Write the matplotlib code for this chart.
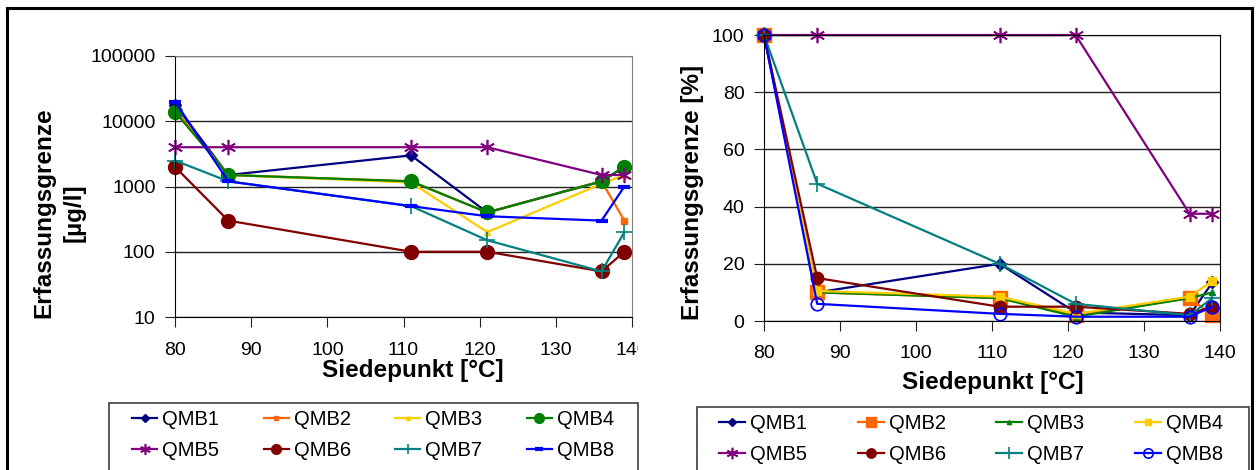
import matplotlib.pyplot as plt
from matplotlib.patches import Rectangle
from matplotlib.lines import Line2D
from matplotlib.ticker import NullLocator

plt.rcParams['font.family'] = ['Liberation Sans', 'DejaVu Sans']

# boiling points of the samples
siedepunkt = [80, 87, 111, 121, 136, 139]
labels = ['QMB1', 'QMB2', 'QMB3', 'QMB4', 'QMB5', 'QMB6', 'QMB7', 'QMB8']

# left chart: detection limit in ug/l (log scale)
abs_qmb1 = [18000, 1500, 3000, 400, 1200, 2000]
abs_qmb2 = [15000, 1500, 1200, 400, 1200, 300]
abs_qmb3 = [14000, 1500, 1150, 200, 1100, 1500]
abs_qmb4 = [14000, 1500, 1200, 400, 1200, 2000]
abs_qmb5 = [4000, 4000, 4000, 4000, 1500, 1500]
abs_qmb6 = [2000, 300, 100, 100, 50, 100]
abs_qmb7 = [2500, 1200, 500, 150, 50, 200]
abs_qmb8 = [20000, 1200, 500, 350, 300, 1000]

# right chart: detection limit in %
rel_qmb1 = [100, 10, 20, 3, 2, 13.5]
rel_qmb2 = [100, 10, 8, 2, 8, 2]
rel_qmb3 = [100, 10, 8, 1.5, 8, 10]
rel_qmb4 = [100, 10.5, 8.5, 2.5, 8.5, 14]
rel_qmb5 = [100, 100, 100, 100, 37.5, 37.5]
rel_qmb6 = [100, 15, 5, 5, 2.5, 5]
rel_qmb7 = [100, 48, 20, 6, 2, 8]
rel_qmb8 = [100, 6, 2.5, 1.5, 1.5, 5]

W, H = 1258, 470
fig = plt.figure(figsize=(W / 100, H / 100), dpi=100)


def fx(x):
    return x / W


def fy(y):
    return 1 - y / H


asterisk = (6, 2, 0)
# legend fills column by column, so reorder to get rows QMB1-4 / QMB5-8
row_order = [0, 4, 1, 5, 2, 6, 3, 7]

# ---- left chart
ax1 = fig.add_axes([fx(175), fy(317), fx(632) - fx(175), fy(56) - fy(317)])
ax1.set_zorder(0)
left_series = [abs_qmb1, abs_qmb2, abs_qmb3, abs_qmb4, abs_qmb5, abs_qmb6, abs_qmb7, abs_qmb8]
left_style = [
    dict(color='#000080', marker='D', ms=6),
    dict(color='#FF6600', marker='s', ms=4),
    dict(color='#FFCC00', marker='^', ms=4),
    dict(color='#008000', marker='o', ms=10),
    dict(color='#800080', marker=asterisk, ms=11, mew=1.2),
    dict(color='#800000', marker='o', ms=10),
    dict(color='#008080', marker='+', ms=11, mew=1.2),
    dict(color='#0000FF', marker='_', ms=8, mew=3),
]
for vals, st, lab in zip(left_series, left_style, labels):
    ax1.plot(siedepunkt, vals, lw=1.6, label=lab, clip_on=False, **st)

ax1.set_yscale('log')
ax1.set_ylim(10, 100000)
ax1.set_xlim(80, 140)
ax1.set_xticks(range(80, 141, 10))
ax1.set_yticks([10, 100, 1000, 10000, 100000])
ax1.set_yticklabels(['10', '100', '1000', '10000', '100000'])
ax1.yaxis.set_minor_locator(NullLocator())
ax1.yaxis.grid(True, color='#222222', lw=1)
ax1.set_axisbelow(True)
for s in ['top', 'right']:
    ax1.spines[s].set_color('#808080')
ax1.tick_params(axis='both', labelsize=14, length=7, direction='out', color='#222222')
ax1.tick_params(axis='x', pad=11)
ax1.tick_params(axis='y', pad=7)

fig.text(fx(59), fy(213), 'Erfassungsgrenze\n[µg/l]', rotation=90, ha='center', va='center',
         fontsize=17.5, fontweight='bold', linespacing=1.4)
fig.text(fx(413), fy(370), 'Siedepunkt [°C]', ha='center', va='center',
         fontsize=17.5, fontweight='bold')

h1, l1 = ax1.get_legend_handles_labels()
ax1.legend([h1[i] for i in row_order], [l1[i] for i in row_order],
           loc='upper left', bbox_to_anchor=(fx(132), fy(410)), bbox_transform=fig.transFigure,
           ncol=4, frameon=False, fontsize=14.5, borderpad=0, borderaxespad=0,
           handlelength=1.25, handletextpad=0.25, columnspacing=2.2, labelspacing=0.6,
           markerscale=0.7)

# white panel covering the clipped part of the left chart
fig.patches.append(Rectangle((fx(638), 0), fx(1251) - fx(638), fy(9), transform=fig.transFigure,
                             facecolor='white', edgecolor='none', zorder=1))

# ---- right chart
ax2 = fig.add_axes([fx(764), fy(321), fx(1220) - fx(764), fy(35) - fy(321)])
ax2.set_zorder(2)
right_series = [rel_qmb1, rel_qmb2, rel_qmb3, rel_qmb4, rel_qmb5, rel_qmb6, rel_qmb7, rel_qmb8]
right_style = [
    dict(color='#000080', marker='D', ms=6),
    dict(color='#FF6600', marker='s', ms=10),
    dict(color='#008000', marker='^', ms=4),
    dict(color='#FFCC00', marker='s', ms=6),
    dict(color='#800080', marker=asterisk, ms=11, mew=1.2),
    dict(color='#800000', marker='o', ms=9),
    dict(color='#008080', marker='+', ms=11, mew=1.2),
    dict(color='#0000FF', marker='o', ms=9, mfc='none', mew=1.2),
]
for vals, st, lab in zip(right_series, right_style, labels):
    ax2.plot(siedepunkt, vals, lw=1.6, label=lab, clip_on=False, **st)

ax2.set_ylim(0, 100)
ax2.set_xlim(80, 140)
ax2.set_xticks(range(80, 141, 10))
ax2.set_yticks(range(0, 101, 20))
ax2.yaxis.grid(True, color='#222222', lw=1)
ax2.set_axisbelow(True)
ax2.tick_params(axis='both', labelsize=14, length=7, direction='out', color='#222222')
ax2.tick_params(axis='x', pad=10)
ax2.tick_params(axis='y', pad=7)

fig.text(fx(693), fy(192), 'Erfassungsgrenze [%]', rotation=90, ha='center', va='center',
         fontsize=17.5, fontweight='bold')
fig.text(fx(993), fy(383), 'Siedepunkt [°C]', ha='center', va='center',
         fontsize=17.5, fontweight='bold')

h2, l2 = ax2.get_legend_handles_labels()
ax2.legend([h2[i] for i in row_order], [l2[i] for i in row_order],
           loc='upper left', bbox_to_anchor=(fx(719), fy(414)), bbox_transform=fig.transFigure,
           ncol=4, frameon=False, fontsize=14.5, borderpad=0, borderaxespad=0,
           handlelength=1.3, handletextpad=0.25, columnspacing=2.5, labelspacing=0.6,
           markerscale=0.75)

# legend boxes
for x0, y0, x1 in [(109, 403, 638), (697, 407, 1249)]:
    fig.patches.append(Rectangle((fx(x0), -0.1), fx(x1) - fx(x0), fy(y0) + 0.1,
                                 transform=fig.transFigure, facecolor='none',
                                 edgecolor='#404040', lw=1.2, zorder=3))

# outer frame
for xs, ys in [([7, 7], [8, 480]), ([7, 1252], [8, 8]), ([1252, 1252], [8, 480])]:
    fig.lines.append(Line2D([fx(v) for v in xs], [fy(v) for v in ys], transform=fig.transFigure,
                            color='black', lw=2.2, zorder=4))

fig.savefig('out.png', dpi=100)
